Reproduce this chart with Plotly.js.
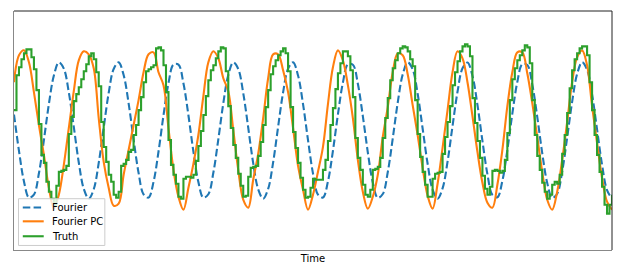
<!DOCTYPE html>
<html>
<head>
<meta charset="utf-8">
<script src="https://cdn.plot.ly/plotly-3.0.1.min.js"></script>
<style>html,body{margin:0;padding:0;background:#fff;}#chart{width:623px;height:275px;}</style>
</head>
<body>
<div id="chart"></div>
<script>
// sample index (time steps) for the model curves, and half-step index for the truth record
const timeIndex = Array.from({length: 121}, (_, i) => i);
const truthTime = Array.from({length: 241}, (_, j) => j / 2);

const fourier = [
13.55,9.90,6.84,5.22,5.52,7.65,10.99,14.61,17.48,18.79,
18.16,15.77,12.31,8.74,6.09,5.10,6.05,8.69,12.24,15.72,
18.13,18.79,17.52,14.68,11.05,7.69,5.54,5.21,6.79,9.84,
13.48,16.70,18.57,18.57,16.69,13.48,9.83,6.78,5.21,5.55,
7.70,11.06,14.68,17.53,18.79,18.13,15.71,12.23,8.67,6.05,
5.10,6.09,8.75,12.32,15.78,18.16,18.79,17.48,14.60,10.98,
7.63,5.51,5.22,6.84,9.91,13.56,16.76,18.59,18.55,16.64,
13.40,9.76,6.73,5.20,5.57,7.76,11.14,14.75,17.57,18.80,
18.09,15.64,12.15,8.61,6.01,5.10,6.14,8.82,12.40,15.84,
18.20,18.78,17.43,14.53,10.90,7.57,5.48,5.24,6.89,9.99,
13.64,16.82,18.61,18.53,16.58,13.32,9.68,6.68,5.18,5.60,
7.83,11.23,14.83,17.63,18.81,18.05,15.57,12.06,8.52,5.96,
5.11];

const fourierPC = [
16.8,19.5,20.0,18.8,15.8,12.5,9.5,6.2,4.1,5.5,
8.5,12.2,15.9,19.0,19.9,19.6,18.2,13.2,8.8,6.2,
4.4,4.6,7.5,10.0,12.5,15.0,17.8,19.6,19.8,17.8,
16.5,12.2,8.0,5.3,4.0,6.2,8.6,11.5,15.4,18.8,
19.9,19.2,17.2,15.9,12.0,8.0,5.0,4.2,7.0,9.6,
13.2,17.2,19.6,19.6,18.0,15.8,12.2,8.4,6.0,4.0,
5.5,7.8,10.3,14.6,18.3,20.0,19.0,16.5,13.2,9.0,
5.8,4.1,5.3,7.5,11.3,14.3,17.8,19.7,19.5,17.6,
14.5,11.5,8.2,5.4,4.1,6.6,10.2,14.0,17.8,19.9,
19.2,16.8,13.4,9.8,6.7,4.7,4.2,6.5,10.0,14.4,
17.8,19.8,19.8,17.7,14.7,11.3,7.8,5.0,4.0,5.8,
9.0,12.8,16.8,19.3,20.0,18.5,14.4,10.7,7.2,4.8,
4.0];

const truth = [
14.0,17.5,18.3,19.1,19.7,20.1,20.1,19.3,18.1,16.0,
12.6,9.5,8.7,6.8,5.8,5.1,4.5,6.4,7.8,7.9,
8.0,8.4,11.6,13.3,14.9,15.6,16.3,17.1,17.9,18.6,
19.4,19.7,19.1,17.8,16.4,12.8,10.3,8.8,7.5,6.8,
5.5,5.2,5.8,8.4,8.6,9.0,9.8,10.0,11.5,12.5,
14.0,15.3,16.8,17.9,18.1,18.3,18.5,20.2,20.3,20.0,
18.5,15.8,11.0,8.5,7.5,6.6,5.3,5.1,7.1,7.3,
7.3,7.2,7.5,8.9,10.4,11.9,13.5,15.4,17.0,18.0,
18.5,19.2,19.9,20.3,20.2,17.9,14.4,12.2,10.5,9.2,
7.6,6.4,5.3,5.4,7.3,8.2,8.3,8.4,9.4,10.8,
12.5,14.3,16.0,17.6,18.4,19.0,19.5,19.9,20.2,19.7,
17.9,14.3,11.8,10.2,8.7,7.2,6.0,5.2,5.3,6.2,
7.1,7.0,7.0,7.0,8.0,9.0,10.9,12.5,14.2,16.1,
17.7,18.7,19.9,19.9,19.4,18.0,15.3,11.2,9.2,8.0,
6.5,5.5,5.3,6.0,8.0,8.1,8.3,9.2,11.2,13.2,
15.2,17.0,18.2,19.0,19.7,20.2,20.4,20.3,19.9,19.1,
18.4,15.0,11.6,9.3,7.8,6.5,5.3,5.3,7.1,7.6,
7.7,7.8,9.6,11.3,12.8,14.4,16.5,17.8,18.9,19.9,
20.4,20.6,20.4,19.4,15.2,12.7,10.9,9.2,7.4,6.1,
5.5,6.3,7.9,8.0,7.9,7.7,7.9,9.0,11.7,15.0,
17.1,18.2,19.0,19.5,20.0,20.5,20.3,18.7,15.0,11.5,
9.4,8.0,6.7,5.8,5.1,5.5,6.5,6.8,6.6,7.5,
9.6,11.5,13.7,16.2,18.0,19.1,19.7,20.2,20.4,20.4,
19.5,16.8,14.0,11.5,9.5,7.8,6.3,4.5,3.6,4.5,
5.5];

const seriesNames = ['Fourier', 'Fourier PC', 'Truth'];
const seriesColors = ['#1f77b4', '#ff7f0e', '#2ca02c'];
const xLabel = 'Time';

const traces = [
  {x: timeIndex, y: fourier, name: seriesNames[0], type: 'scatter', mode: 'lines',
   line: {color: seriesColors[0], width: 2.1, dash: '7.5px,3.3px', shape: 'spline', smoothing: 1}},
  {x: timeIndex, y: fourierPC, name: seriesNames[1], type: 'scatter', mode: 'lines',
   line: {color: seriesColors[1], width: 2.1, shape: 'spline', smoothing: 1}},
  {x: truthTime, y: truth, name: seriesNames[2], type: 'scatter', mode: 'lines',
   line: {color: seriesColors[2], width: 2.1, shape: 'hv'}}
];

// hand-built legend box (matplotlib-style, lower left)
const legX0 = 0.0075, legX1 = 0.1519, legY0 = 0.019, legY1 = 0.2146;
const rowY = [0.178, 0.12, 0.0575];
const sampX0 = 0.0147, sampX1 = 0.0497, textX = 0.0609;

const shapes = [
  {type: 'line', xref: 'paper', yref: 'paper', x0: 0, x1: 1, y0: 1, y1: 1, line: {color: '#222', width: 1}},
  {type: 'line', xref: 'paper', yref: 'paper', x0: 1, x1: 1, y0: 0, y1: 1, line: {color: '#222', width: 1}},
  {type: 'rect', xref: 'paper', yref: 'paper', x0: legX0, x1: legX1, y0: legY0, y1: legY1,
   fillcolor: 'rgba(255,255,255,0.8)', line: {color: '#cccccc', width: 1}, layer: 'above'}
];
const annotations = [];
seriesNames.forEach((name, k) => {
  shapes.push({type: 'line', xref: 'paper', yref: 'paper', x0: sampX0, x1: sampX1, y0: rowY[k], y1: rowY[k],
    line: {color: seriesColors[k], width: 2.1, dash: k === 0 ? '7.5px,3.3px' : 'solid'}, layer: 'above'});
  annotations.push({xref: 'paper', yref: 'paper', x: textX, y: rowY[k], xanchor: 'left', yanchor: 'middle',
    text: name, showarrow: false, font: {family: 'DejaVu Sans', size: 10, color: '#000'}});
});

const layout = {
  width: 623, height: 275,
  margin: {l: 13.5, r: 10.5, t: 10.5, b: 24.5, pad: 0},
  paper_bgcolor: '#fff', plot_bgcolor: '#fff',
  font: {family: 'DejaVu Sans', size: 10, color: '#000'},
  showlegend: false,
  xaxis: {range: [0, 120], showgrid: false, zeroline: false, showticklabels: false, ticks: '',
          showline: true, linecolor: '#888', linewidth: 1, mirror: false,
          title: {text: xLabel, font: {family: 'DejaVu Sans', size: 10, color: '#000'}, standoff: 4},
          automargin: false},
  yaxis: {range: [-0.05, 23.95], showgrid: false, zeroline: false, showticklabels: false, ticks: '',
          showline: true, linecolor: '#888', linewidth: 1, mirror: false, automargin: false},
  shapes: shapes,
  annotations: annotations
};

Plotly.newPlot('chart', traces, layout, {displayModeBar: false, staticPlot: true});
</script>
</body>
</html>
